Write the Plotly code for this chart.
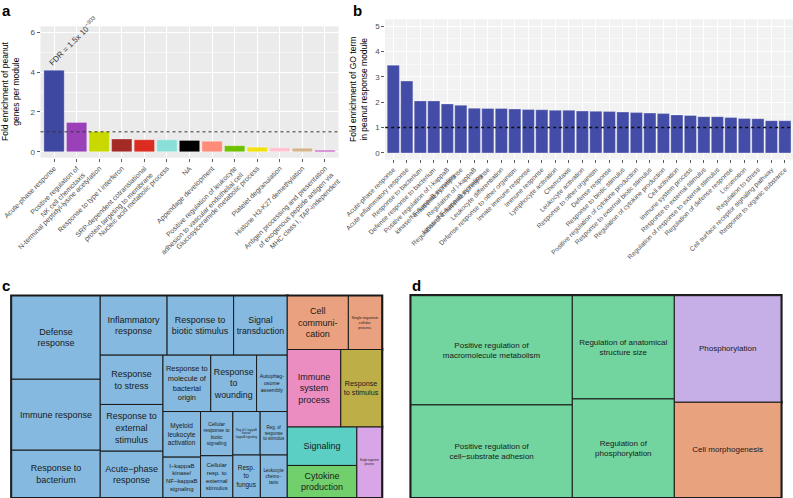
import plotly.graph_objects as go

FIG_W, FIG_H = 793, 498
FONT = "Liberation Sans, Arial, Helvetica, sans-serif"
TXT = "#4D4D4D"

# ---------------- Panel a data ----------------
a_modules = [
    "Acute-phase response",
    "Positive regulation of<br>NK cell chemotaxis",
    "N-terminal peptidyl-lysine acetylation",
    "Response to type I interferon",
    "SRP-dependent cotranslational<br>protein targeting to membrane",
    "Nucleic acid metabolic process",
    "NA",
    "Appendage development",
    "Positive regulation of leukocyte<br>adhesion to vascular endothelial cell",
    "Glucosylceramide metabolic process",
    "Platelet degranulation",
    "Histone H3-K27 demethylation",
    "Antigen processing and presentation<br>of exogenous peptide antigen via<br>MHC class I, TAP-independent",
]
a_fold = [4.09, 1.47, 1.02, 0.64, 0.60, 0.60, 0.57, 0.52, 0.30, 0.23, 0.20, 0.18, 0.07]
a_colors = ["#3F48A1", "#9A41BA", "#C9D800", "#A42A26", "#DC2B1F", "#8ADFD8",
            "#000000", "#FF8B79", "#6DC100", "#F1E20F", "#FFC1D0", "#D4B48B", "#C34BC1"]
a_threshold = 1
a_yticks = [0, 2, 4, 6]
a_fdr = "FDR = 1.5x 10<sup>−303</sup>"

# ---------------- Panel b data ----------------
b_terms = [
    "Acute-phase response",
    "Acute inflammatory response",
    "Response to bacterium",
    "Defense response to bacterium",
    "Positive regulation of I-kappaB<br>kinase/NF-kappaB signaling",
    "Inflammatory response",
    "Regulation of I-kappaB<br>kinase/NF-kappaB signaling",
    "Regulation of inflammatory response",
    "Leukocyte differentiation",
    "Defense response to other organism",
    "Innate immune response",
    "Immune response",
    "Lymphocyte activation",
    "Chemotaxis",
    "Leukocyte activation",
    "Response to other organism",
    "Defense response",
    "Response to biotic stimulus",
    "Positive regulation of cytokine production",
    "Response to external biotic stimulus",
    "Regulation of cytokine production",
    "Cell activation",
    "Immune system process",
    "Response to external stimulus",
    "Regulation of response to external stimulus",
    "Regulation of defense response",
    "Locomotion",
    "Regulation to stress",
    "Cell surface receptor signaling pathway",
    "Response to organic substance",
]
b_fold = [3.46, 2.83, 2.05, 2.05, 1.93, 1.88, 1.76, 1.75, 1.75, 1.73,
          1.71, 1.70, 1.68, 1.68, 1.65, 1.64, 1.63, 1.61, 1.59, 1.57,
          1.55, 1.50, 1.48, 1.43, 1.43, 1.40, 1.36, 1.35, 1.27, 1.27]
b_color = "#434CA6"
b_threshold = 1
b_yticks = [0, 1, 2, 3, 4, 5]

# ---------------- Panel c data (treemap) ----------------
c_terms = [
    "Defense response", "Immune response", "Response to bacterium",
    "Inflammatory response", "Response to biotic stimulus", "Signal transduction",
    "Response to stress", "Response to external stimulus", "Acute-phase response",
    "Response to molecule of bacterial origin", "Response to wounding",
    "Autophagosome assembly", "Myeloid leukocyte activation",
    "I-kappaB kinase/NF-kappaB signaling", "Cellular response to biotic signaling",
    "Cellular resp. to external stimulus", "Reg of I-kappaB kinase/NF-kappaB signaling",
    "Reg. of response to stimulus", "Resp. to fungus", "Leukocyte chemotaxis",
    "Cell communication", "Single organism cellular process",
    "Immune system process", "Response to stimulus", "Signaling",
    "Cytokine production", "Single organism process",
]
c_labels = [
    "Defense<br>response", "Immune response", "Response to<br>bacterium",
    "Inflammatory<br>response", "Response to<br>biotic stimulus", "Signal<br>transduction",
    "Response<br>to stress", "Response to<br>external<br>stimulus", "Acute−phase<br>response",
    "Response to<br>molecule of<br>bacterial<br>origin", "Response<br>to<br>wounding",
    "Autophag-<br>osome<br>assembly", "Myeloid<br>leukocyte<br>activation",
    "I−kappaB<br>kinase/<br>NF−kappaB<br>signaling", "Cellular<br>response to<br>biotic<br>signaling",
    "Cellular<br>resp. to<br>external<br>stimulus", "Reg of I−kappaB<br>kinase/<br>kappaB signaling",
    "Reg. of<br>response<br>to stimulus", "Resp.<br>to<br>fungus", "Leukocyte<br>chemo−<br>taxis",
    "Cell<br>communi-<br>cation", "Single organism<br>cellular<br>process",
    "Immune<br>system<br>process", "Response<br>to stimulus", "Signaling",
    "Cytokine<br>production", "Single organism<br>process",
]
c_groups = (["Defense response"] * 20 + ["Cell communication"] * 2 +
            ["Immune system process", "Response to stimulus", "Signaling",
             "Cytokine production", "Single organism process"])
c_sizes = [7439, 6340, 4224, 3991, 3973, 3202, 3121, 2960, 2930, 2719, 2607,
           1745, 1730, 1531, 1440, 1360, 1199, 1190, 1180, 1153,
           3300, 1800, 4187, 3200, 2700, 2250, 1767]
c_fontsizes = [9, 9, 9, 9, 9, 9, 9, 9, 9, 9, 9,
               8, 6.5, 6.5, 5, 6, 4, 6, 6.5, 6,
               9, 4, 9, 9, 9, 9, 8]
c_group_colors = {
    "Defense response": "#85B9E0", "Cell communication": "#E9A17F",
    "Immune system process": "#EB8DC1", "Response to stimulus": "#BDAE47",
    "Signaling": "#5BCFC3", "Cytokine production": "#71CF6C",
    "Single organism process": "#D8A5E6",
}

# ---------------- Panel d data (treemap) ----------------
d_terms = [
    "Positive regulation of macromolecule metabolism",
    "Positive regulation of cell-substrate adhesion",
    "Regulation of anatomical structure size",
    "Regulation of phosphorylation",
    "Phosphorylation",
    "Cell morphogenesis",
]
d_labels = [
    "Positive regulation of<br>macromolecule metabolism",
    "Positive regulation of<br>cell−substrate adhesion",
    "Regulation of anatomical<br>structure size",
    "Regulation of<br>phosphorylation",
    "Phosphorylation",
    "Cell morphogenesis",
]
d_groups = ["Positive regulation of macromolecule metabolism"] * 4 + ["Phosphorylation", "Cell morphogenesis"]
d_sizes = [17633, 14950, 10540, 10064, 11378, 10171]
d_fontsizes = [8] * 6
d_group_colors = {
    "Positive regulation of macromolecule metabolism": "#72D49E",
    "Phosphorylation": "#C6AEE6",
    "Cell morphogenesis": "#E8A27E",
}

SQUARIFY_RATIO = 1.13


def px(x):
    return x / FIG_W


def py(y):
    return 1 - y / FIG_H


def treemap_trace(terms, labels, groups, sizes, fsizes, gcolors, xdom, ydom):
    ids, parents, values, colors, lws, texts, fs = [], [], [], [], [], [], []
    for g in dict.fromkeys(groups):
        ids.append("g:" + g)
        parents.append("")
        values.append(sum(s for s, gg in zip(sizes, groups) if gg == g))
        colors.append(gcolors[g])
        lws.append(3.2)
        texts.append("")
        fs.append(8)
    for t, lab, g, s, f in zip(terms, labels, groups, sizes, fsizes):
        ids.append("t:" + t)
        parents.append("g:" + g)
        values.append(s)
        colors.append(gcolors[g])
        lws.append(1.0)
        texts.append(lab)
        fs.append(f)
    return go.Treemap(
        ids=ids, labels=ids, parents=parents, values=values,
        branchvalues="total", sort=True,
        text=texts, textinfo="text", textposition="middle center",
        textfont=dict(family=FONT, size=fs, color="#1A1A1A"),
        marker=dict(colors=colors, line=dict(color="#1A1A1A", width=lws),
                    pad=dict(t=0, l=0, r=0, b=0)),
        tiling=dict(packing="squarify", squarifyratio=SQUARIFY_RATIO, pad=0),
        pathbar=dict(visible=False),
        root=dict(color="#1A1A1A"),
        hoverinfo="skip",
        domain=dict(x=xdom, y=ydom),
    )


fig = go.Figure()

fig.add_trace(go.Bar(
    x=a_modules, y=a_fold, width=0.9,
    marker=dict(color=a_colors, line=dict(color="rgba(255,255,255,0.5)", width=0.6)),
    xaxis="x", yaxis="y", hoverinfo="skip", showlegend=False,
))
fig.add_trace(go.Bar(
    x=b_terms, y=b_fold, width=0.9,
    marker=dict(color=b_color, line=dict(color="rgba(255,255,255,0.5)", width=0.6)),
    xaxis="x2", yaxis="y2", hoverinfo="skip", showlegend=False,
))
fig.add_trace(treemap_trace(c_terms, c_labels, c_groups, c_sizes, c_fontsizes,
                            c_group_colors, [px(11.7), px(381.7)], [py(497.5), py(296)]))
fig.add_trace(treemap_trace(d_terms, d_labels, d_groups, d_sizes, d_fontsizes,
                            d_group_colors, [px(411), px(781)], [py(497.5), py(295.7)]))

xcommon = dict(type="category", showline=False, zeroline=False, ticks="outside",
               ticklen=3, tickwidth=0.8, tickcolor="#333333", showgrid=True,
               gridcolor="white", gridwidth=1, tickangle=-45, automargin=False)
ycommon = dict(showline=False, zeroline=False, ticks="outside", ticklen=3,
               tickwidth=0.8, tickcolor="#333333", showgrid=True,
               gridcolor="white", gridwidth=1, automargin=False,
               tickfont=dict(family=FONT, size=8, color=TXT))

fig.update_layout(
    width=FIG_W, height=FIG_H,
    margin=dict(l=0, r=0, t=0, b=0, autoexpand=False),
    paper_bgcolor="white", plot_bgcolor="#EBEBEB",
    font=dict(family=FONT),
    showlegend=False,
    xaxis=dict(xcommon, domain=[px(40.5), px(338.5)], anchor="y",
               range=[-0.6, len(a_modules) - 0.4],
               tickfont=dict(family=FONT, size=7, color=TXT)),
    yaxis=dict(ycommon, domain=[py(157.7), py(26.3)], anchor="x",
               range=[-0.3, 6.3], tickvals=a_yticks,
               minor=dict(dtick=1, showgrid=True, gridcolor="white", gridwidth=0.5)),
    xaxis2=dict(xcommon, domain=[px(385.2), 1.0], anchor="y2",
                range=[-0.6, len(b_terms) - 0.4],
                tickfont=dict(family=FONT, size=6.6, color=TXT)),
    yaxis2=dict(ycommon, domain=[py(159.3), py(19.7)], anchor="x2",
                range=[-0.25, 5.25], tickvals=b_yticks,
                minor=dict(dtick=0.5, showgrid=True, gridcolor="white", gridwidth=0.5)),
)

shapes = [
    dict(type="rect", xref="x2 domain", yref="y2 domain", x0=0, x1=1, y0=0, y1=1,
         fillcolor="#F2F2F2", line=dict(width=0), layer="below"),
    dict(type="line", xref="x domain", yref="y", x0=0, x1=1,
         y0=a_threshold, y1=a_threshold, line=dict(color="#333333", width=1, dash="dot")),
    dict(type="line", xref="x2 domain", yref="y2", x0=0, x1=1,
         y0=b_threshold, y1=b_threshold, line=dict(color="#111111", width=1.5, dash="dot")),
]
fig.update_layout(shapes=shapes)

ann = []
for letter, x, y in [("a", 0, 0), ("b", 351, 0), ("c", 0, 275), ("d", 410, 275)]:
    ann.append(dict(text="<b>" + letter + "</b>", x=px(x), y=py(y), xref="paper", yref="paper",
                    xanchor="left", yanchor="top", showarrow=False,
                    font=dict(family=FONT, size=15, color="black")))
ann.append(dict(text="Fold enrichment of peanut<br>genes per module", x=px(11), y=py(92),
                xref="paper", yref="paper", textangle=-90, showarrow=False,
                xanchor="center", yanchor="middle",
                font=dict(family=FONT, size=8.5, color="black")))
ann.append(dict(text="Fold enrichment of GO term<br>in peanut response module", x=px(358), y=py(90),
                xref="paper", yref="paper", textangle=-90, showarrow=False,
                xanchor="center", yanchor="middle",
                font=dict(family=FONT, size=8.5, color="black")))
ann.append(dict(text=a_fdr, x=a_modules[0], y=a_fold[0], xref="x", yref="y",
                xanchor="left", yanchor="bottom", textangle=-45, showarrow=False,
                xshift=-10, yshift=0, font=dict(family=FONT, size=8, color="#333333")))
fig.update_layout(annotations=ann)

fig.write_html("out.html", post_script="document.body.style.margin='0';",
               config={"displayModeBar": False, "staticPlot": True})
